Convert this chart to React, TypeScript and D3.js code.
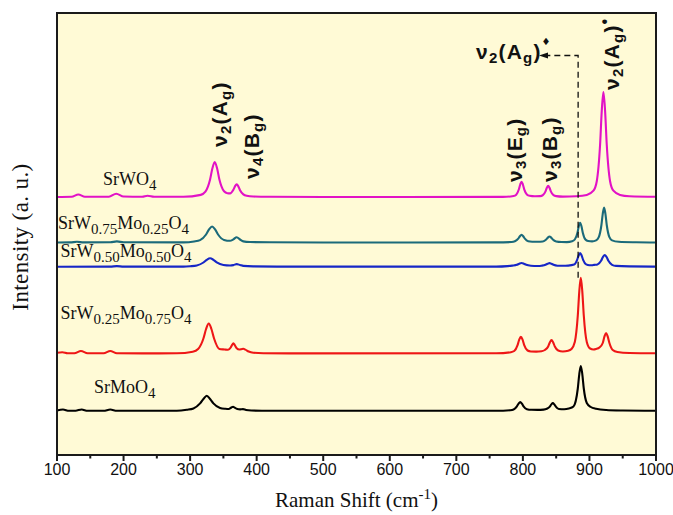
import React from "react";
import * as d3 from "d3";

// Raman spectra of SrW(1-x)Mo(x)O4, vertically offset for comparison.
type Pt = [number, number];

const xTicks = [100, 200, 300, 400, 500, 600, 700, 800, 900, 1000];
const xMinorTicks = [150, 250, 350, 450, 550, 650, 750, 850, 950];

const srWO4: Pt[] = [
  [100, 258], [122, 258.2], [132, 260.5], [142, 258.3], [178, 258.3], [189, 261.3], [200, 258.5],
  [228, 258.2], [236, 259.2], [246, 258.2], [290, 258.2], [316, 260.1], [323, 263.3], [330, 275.5],
  [333.5, 286.7], [337, 293], [340.5, 286.7], [344, 275.5], [351, 263.7], [356, 261.8], [360, 261.6],
  [365, 265.2], [367.5, 268.8], [370, 270.8], [372.5, 268.6], [375, 264.7], [380, 260.6], [385, 259.2],
  [395, 258.5], [420, 258.2], [500, 258], [770, 258.1], [786, 259], [790, 260.3], [794, 265.7],
  [796, 270.5], [798, 273.3], [800, 270.5], [802, 265.7], [806, 260.6], [810, 259.3], [818, 258.8],
  [826, 258.9], [830, 259.9], [834, 263.7], [836, 267.3], [838, 269.3], [840, 267.3], [842, 263.7],
  [846, 259.9], [850, 258.9], [860, 258.4], [880, 258.8], [896, 260.1], [906, 264.3], [911, 273.8],
  [916, 310.5], [918.5, 344.1], [921, 363], [923.5, 344.1], [926, 310.5], [931, 273.8], [936, 264.3],
  [946, 260.1], [960, 258.8], [1000, 258.3],
];

const srW75Mo25: Pt[] = [
  [100, 212.5], [120, 212.6], [130, 213.2], [140, 212.6], [180, 212.7], [190, 213.6], [200, 212.7],
  [290, 212.6], [306, 213.5], [315, 214.9], [324, 220.5], [328.5, 225.6], [333, 228.5], [337.5, 225.6],
  [342, 220.5], [351, 215.1], [360, 214.2], [365, 215.7], [370, 217.8], [375, 215.5], [380, 213.6],
  [390, 213], [420, 212.7], [500, 212.5], [760, 212.6], [783, 213], [788, 213.7], [793, 216.3],
  [795.5, 218.8], [798, 220.2], [800.5, 218.8], [803, 216.3], [808, 213.8], [814, 213.3], [822, 213.2],
  [830, 213.5], [835, 215.5], [837.5, 217.4], [840, 218.5], [842.5, 217.4], [845, 215.5], [850, 213.6],
  [858, 213], [866, 212.9], [874, 213.7], [878, 215.5], [882, 222.3], [884, 228.7], [886, 232.2],
  [888, 228.7], [890, 222.3], [894, 215.5], [898, 214], [904, 213.6], [910, 214.6], [914, 217.8],
  [918, 230], [920, 241.2], [922, 247.5], [924, 241.2], [926, 230], [930, 217.8], [934, 214.6],
  [944, 213.2], [970, 212.7], [1000, 212.5],
];

const srW50Mo50: Pt[] = [
  [100, 188.3], [180, 188.4], [190, 188.9], [200, 188.4], [290, 188.4], [300, 188.8], [310, 189.6],
  [320, 192.5], [325, 195.2], [330, 196.7], [335, 195.2], [340, 192.6], [350, 190], [360, 189.5],
  [365, 189.9], [370, 190.9], [375, 190], [380, 189.1], [395, 188.6], [430, 188.4], [760, 188.4],
  [777, 188.9], [784, 189.4], [791, 190.2], [794.5, 191.3], [798, 192], [801.5, 191.3], [805, 190.2],
  [812, 189.3], [822, 189], [828, 189.3], [834, 190.2], [837, 191.2], [840, 191.9], [843, 191.2],
  [846, 190.2], [852, 189.3], [860, 189.2], [868, 189.4], [877, 190.4], [881.5, 195.2], [883.75, 199.5],
  [886, 202], [888.25, 199.5], [890.5, 195.2], [895, 190.6], [900, 189.8], [904, 189.8], [907, 190.1],
  [912, 190.5], [917.5, 194.2], [920.25, 198], [923, 200], [925.75, 198], [928.5, 194.2], [934, 190.2],
  [940, 189.1], [960, 188.6], [1000, 188.4],
];

const srW25Mo75: Pt[] = [
  [100, 102.3], [108, 102.8], [116, 101.8], [126, 101.7], [136, 104], [146, 101.8], [170, 101.7],
  [180, 104], [190, 101.8], [230, 101.6], [280, 101.7], [304, 103.3], [312, 106], [320, 116.5],
  [324, 126], [328, 131.5], [332, 126], [336, 116.5], [344, 106], [352, 105.5], [357, 105.2],
  [361, 107.5], [363, 110], [365, 111.7], [367, 110], [370, 106.8], [374, 105.5], [377, 105.8],
  [380, 106.2], [383, 105.4], [388, 103.5], [395, 102.3], [410, 101.8], [450, 101.6], [760, 101.7],
  [782, 102.8], [787, 104], [792, 109.9], [794.5, 115.4], [797, 118.3], [799.5, 115.4], [802, 109.9],
  [807, 104.5], [812, 103.5], [820, 103.4], [828, 103.8], [833, 105], [838, 108.5], [840.5, 112.6],
  [843, 115], [845.5, 112.6], [848, 108.5], [853, 104.5], [860, 103.5], [868, 104.2], [873, 106],
  [878, 113], [882.5, 139.5], [884.75, 163.7], [887, 177.3], [889.25, 163.7], [891.5, 139.5], [896, 113],
  [901, 106.5], [906, 105.5], [910, 106], [915, 107.5], [920, 112], [922.5, 118.3], [925, 122],
  [927.5, 118.3], [930, 112], [935, 105], [942, 103], [960, 102], [1000, 101.7],
];

const srMoO4: Pt[] = [
  [100, 44.5], [109, 45.5], [118, 44.2], [128, 44.3], [137, 45.5], [146, 44.2], [170, 44.2],
  [180, 45.5], [190, 44.2], [280, 44.3], [295, 45.3], [305, 46.6], [315, 51.6], [320, 56], [325, 59.3],
  [330, 56], [335, 51.6], [345, 47], [353, 46.2], [358, 46], [362, 47.5], [364.5, 48.3], [367, 47.3],
  [371, 46], [375, 45.6], [379.5, 45.9], [384, 45], [392, 44.5], [420, 44.2], [760, 44.2], [781, 44.8],
  [786, 45.5], [791, 48.6], [793.5, 51.4], [796, 53], [798.5, 51.4], [801, 48.6], [806, 45.8],
  [813, 45.2], [822, 45.1], [831, 45.4], [836, 46.2], [840.5, 48.4], [842.75, 50.6], [845, 52],
  [847.25, 50.6], [849.5, 48.4], [854, 46], [862, 45.8], [869, 46.5], [876, 48.5], [882.5, 66.5],
  [884.75, 80.9], [887, 89], [889.25, 80.9], [891.5, 66.5], [896, 52], [902, 48], [910, 46.2],
  [925, 45], [950, 44.5], [1000, 44.2],
];

// Sample names: [text, isSubscript]
type Part = [string, boolean];
const nameWO4: Part[] = [["SrWO", false], ["4", true]];
const nameW75: Part[] = [["SrW", false], ["0.75", true], ["Mo", false], ["0.25", true], ["O", false], ["4", true]];
const nameW50: Part[] = [["SrW", false], ["0.50", true], ["Mo", false], ["0.50", true], ["O", false], ["4", true]];
const nameW25: Part[] = [["SrW", false], ["0.25", true], ["Mo", false], ["0.75", true], ["O", false], ["4", true]];
const nameMoO4: Part[] = [["SrMoO", false], ["4", true]];

// Vibrational mode assignments: [wavenumber, nu index, symmetry, sym subscript, mark]
type Mode = [number, string, string, string, string];
const modes: Mode[] = [
  [337, "2", "A", "g", ""],
  [370, "4", "B", "g", ""],
  [798, "3", "E", "g", ""],
  [838, "3", "B", "g", ""],
  [921, "2", "A", "g", "•"],
];

const W = 673;
const H = 515;
const plot = { left: 57, right: 656, top: 13, bottom: 455 };

const x = d3.scaleLinear().domain([100, 1000]).range([plot.left, plot.right]);
const y = d3.scaleLinear().domain([0, 442]).range([plot.bottom, plot.top]);

const line = d3
  .line<Pt>()
  .x((d) => x(d[0]))
  .y((d) => y(d[1]))
  .curve(d3.curveMonotoneX);

const series = [
  { data: srWO4, color: "#E212C6", name: nameWO4, lx: 103, ly: 185 },
  { data: srW75Mo25, color: "#1B6A7A", name: nameW75, lx: 58, ly: 228.5 },
  { data: srW50Mo50, color: "#1626C6", name: nameW50, lx: 60.5, ly: 256.5 },
  { data: srW25Mo75, color: "#EE1616", name: nameW25, lx: 60.5, ly: 319 },
  { data: srMoO4, color: "#000000", name: nameMoO4, lx: 94, ly: 393 },
];

// label offsets (baseline x relative to the peak, bottom y) for the rotated mode labels
const modeLayout = [
  { dx: 12, y: 147 },
  { dx: 22, y: 179 },
  { dx: 0, y: 182 },
  { dx: 9, y: 182 },
  { dx: 16, y: 90 },
];

const serif = "'Liberation Serif', 'Times New Roman', serif";
const sans = "'Liberation Sans', Arial, 'DejaVu Sans', sans-serif";

function richText(parts: Part[], subSize: number, shift: number) {
  let sub = false;
  return parts.map(([t, isSub], i) => {
    const dy = isSub === sub ? 0 : isSub ? shift : -shift;
    sub = isSub;
    return (
      <tspan key={i} dy={dy} fontSize={isSub ? subSize : undefined}>
        {t}
      </tspan>
    );
  });
}

function ModeLabel({ mode, bx, by }: { mode: Mode; bx: number; by: number }) {
  const [, nu, sym, symSub, mark] = mode;
  return (
    <text
      transform={`translate(${bx},${by}) rotate(-90)`}
      fontFamily={sans}
      fontWeight="bold"
      fontSize={21}
      letterSpacing={1.2}
      fill="#111"
    >
      ν
      <tspan dy={4} fontSize={15}>{nu}</tspan>
      <tspan dy={-4}>({sym}</tspan>
      <tspan dy={4} fontSize={15}>{symSub}</tspan>
      <tspan dy={-4}>)</tspan>
      {mark && (
        <tspan dy={-9} fontSize={16}>
          {mark}
        </tspan>
      )}
    </text>
  );
}

export default function App() {
  const dashX = x(883);
  const dashTop = 55.5;
  const dashBottom = y(177.3);
  const arrowTip = 539;

  return (
    <svg
      width={W}
      height={H}
      style={{ position: "absolute", left: 0, top: 0, background: "#fff" }}
    >
      <rect
        x={plot.left}
        y={plot.top}
        width={plot.right - plot.left}
        height={plot.bottom - plot.top}
        fill="#FFFAD6"
      />

      {series.map((s, i) => (
        <path
          key={i}
          d={line(s.data) || ""}
          fill="none"
          stroke={s.color}
          strokeWidth={2.1}
          strokeLinejoin="round"
        />
      ))}

      {series.map((s, i) => (
        <text key={i} x={s.lx} y={s.ly} fontFamily={serif} fontSize={18} fill="#111">
          {richText(s.name, 15, 5)}
        </text>
      ))}

      {modes.map((m, i) => (
        <ModeLabel key={i} mode={m} bx={x(m[0]) + modeLayout[i].dx} by={modeLayout[i].y} />
      ))}

      {/* reference marker for the SrMoO4-type v2(Ag) band */}
      <path
        d={`M${dashX},${dashBottom}V${dashTop}H${arrowTip + 8}`}
        fill="none"
        stroke="#111"
        strokeWidth={1.3}
        strokeDasharray="6,4"
      />
      <path
        d={`M${arrowTip},${dashTop}L${arrowTip + 9},${dashTop - 3}L${arrowTip + 9},${dashTop + 3}Z`}
        fill="#111"
      />
      <text x={476} y={58.5} fontFamily={sans} fontWeight="bold" fontSize={21} letterSpacing={1.2} fill="#111">
        ν<tspan dy={4} fontSize={15}>2</tspan>
        <tspan dy={-4}>(A</tspan>
        <tspan dy={4} fontSize={15}>g</tspan>
        <tspan dy={-4}>)</tspan>
        <tspan dy={-14} fontSize={10} fontFamily="'DejaVu Sans', sans-serif">♦</tspan>
      </text>

      {/* axis frame */}
      <rect
        x={plot.left}
        y={plot.top}
        width={plot.right - plot.left}
        height={plot.bottom - plot.top}
        fill="none"
        stroke="#1a1a1a"
        strokeWidth={2}
      />

      {xTicks.map((t) => (
        <g key={t}>
          <line x1={x(t)} x2={x(t)} y1={plot.bottom} y2={plot.bottom + 6} stroke="#1a1a1a" strokeWidth={2} />
          <text x={x(t)} y={plot.bottom + 20} textAnchor="middle" fontFamily={sans} fontSize={16} fill="#111">
            {t}
          </text>
        </g>
      ))}
      {xMinorTicks.map((t) => (
        <line key={t} x1={x(t)} x2={x(t)} y1={plot.bottom} y2={plot.bottom + 3.5} stroke="#1a1a1a" strokeWidth={2} />
      ))}

      <text x={(plot.left + plot.right) / 2} y={507} textAnchor="middle" fontFamily={serif} fontSize={21} fill="#111">
        Raman Shift (cm<tspan dy={-8} fontSize={15}>-1</tspan>
        <tspan dy={8}>)</tspan>
      </text>

      <text
        transform={`translate(28,237) rotate(-90)`}
        textAnchor="middle"
        fontFamily={serif}
        fontSize={23}
        letterSpacing={0.4}
        fill="#111"
      >
        Intensity (a. u.)
      </text>
    </svg>
  );
}
